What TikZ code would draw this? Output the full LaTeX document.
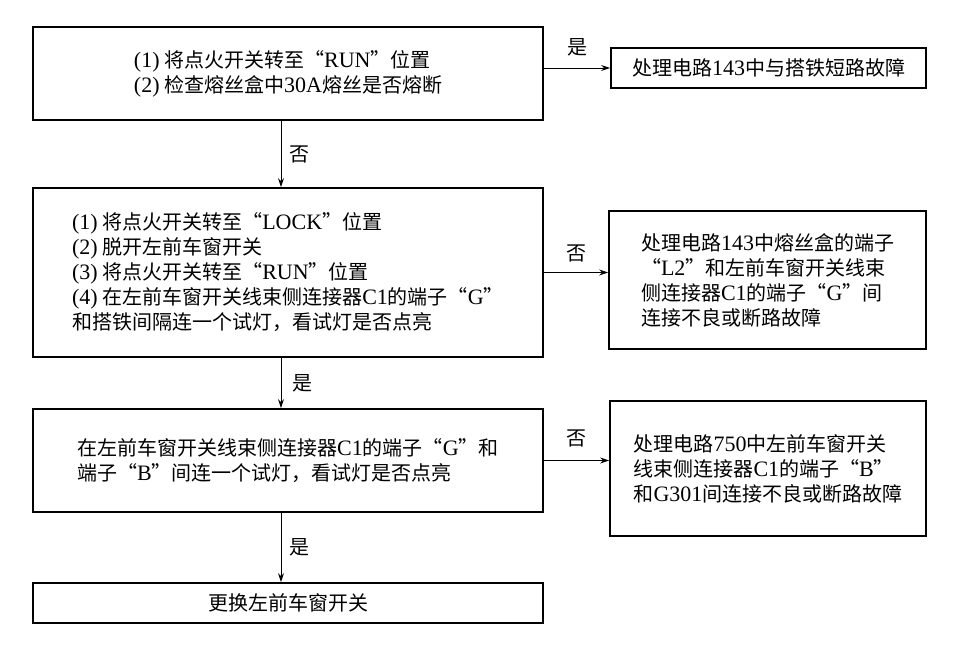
\documentclass[tikz,border=0pt]{standalone}
\usepackage{fontspec}
\setmainfont{Noto Sans CJK SC}
\newfontfamily\latfont[Scale=1.1]{Liberation Serif}
\newcommand{\lat}[1]{{\latfont #1}}
\usetikzlibrary{arrows.meta}
\begin{document}
\begin{tikzpicture}[x=1pt,y=-1pt,
  box/.style={draw, line width=1.8pt, align=left, inner sep=0pt, font=\fontsize{20}{25}\selectfont},
  arr/.style={line width=1pt, -{Stealth[length=9pt,width=6pt]}},
  lab/.style={inner sep=0pt, font=\fontsize{20}{24}\selectfont}]
\useasboundingbox (0,0) rectangle (965,654);
\node[box, minimum width=510pt, minimum height=93pt] (chk1) at (288,73.5)
  {\lat{(1)} 将点火开关转至“\lat{RUN}”位置\\\lat{(2)} 检查熔丝盒中\lat{30A}熔丝是否熔断};
\node[box, minimum width=315pt, minimum height=40pt] (fix1) at (768.5,68)
  {处理电路\lat{143}中与搭铁短路故障};
\node[box, minimum width=510pt, minimum height=169pt] (chk2) at (288,272.5)
  {\lat{(1)} 将点火开关转至“\lat{LOCK}”位置\\\lat{(2)} 脱开左前车窗开关\\\lat{(3)} 将点火开关转至“\lat{RUN}”位置\\\lat{(4)} 在左前车窗开关线束侧连接器\lat{C1}的端子“\lat{G}”\\和搭铁间隔连一个试灯，看试灯是否点亮};
\node[box, minimum width=317pt, minimum height=138pt] (fix2) at (767.5,280)
  {处理电路\lat{143}中熔丝盒的端子\\“\lat{L2}”和左前车窗开关线束\\侧连接器\lat{C1}的端子“\lat{G}”间\\连接不良或断路故障};
\node[box, minimum width=510pt, minimum height=103pt] (chk3) at (288,460.5)
  {在左前车窗开关线束侧连接器\lat{C1}的端子“\lat{G}”和\\端子“\lat{B}”间连一个试灯，看试灯是否点亮};
\node[box, minimum width=316pt, minimum height=135pt] (fix3) at (768,468.5)
  {处理电路\lat{750}中左前车窗开关\\线束侧连接器\lat{C1}的端子“\lat{B}”\\和\lat{G301}间连接不良或断路故障};
\node[box, minimum width=510pt, minimum height=40pt] (fix4) at (288,603)
  {更换左前车窗开关};
\draw[arr] (chk1.east |- fix1.west) -- (fix1.west) node[lab, midway, above=11pt] {是};
\draw[arr] ([xshift=-7pt]chk1.south) -- ([xshift=-7pt]chk2.north) node[lab, midway, right=8pt] {否};
\draw[arr] (chk2.east) -- (chk2.east -| fix2.west) node[lab, midway, above=10pt] {否};
\draw[arr] ([xshift=-7pt]chk2.south) -- ([xshift=-7pt]chk3.north) node[lab, midway, right=11pt] {是};
\draw[arr] (chk3.east) -- (chk3.east -| fix3.west) node[lab, midway, above=13pt] {否};
\draw[arr] ([xshift=-7pt]chk3.south) -- ([xshift=-7pt]fix4.north) node[lab, midway, right=8pt] {是};
\end{tikzpicture}
\end{document}
